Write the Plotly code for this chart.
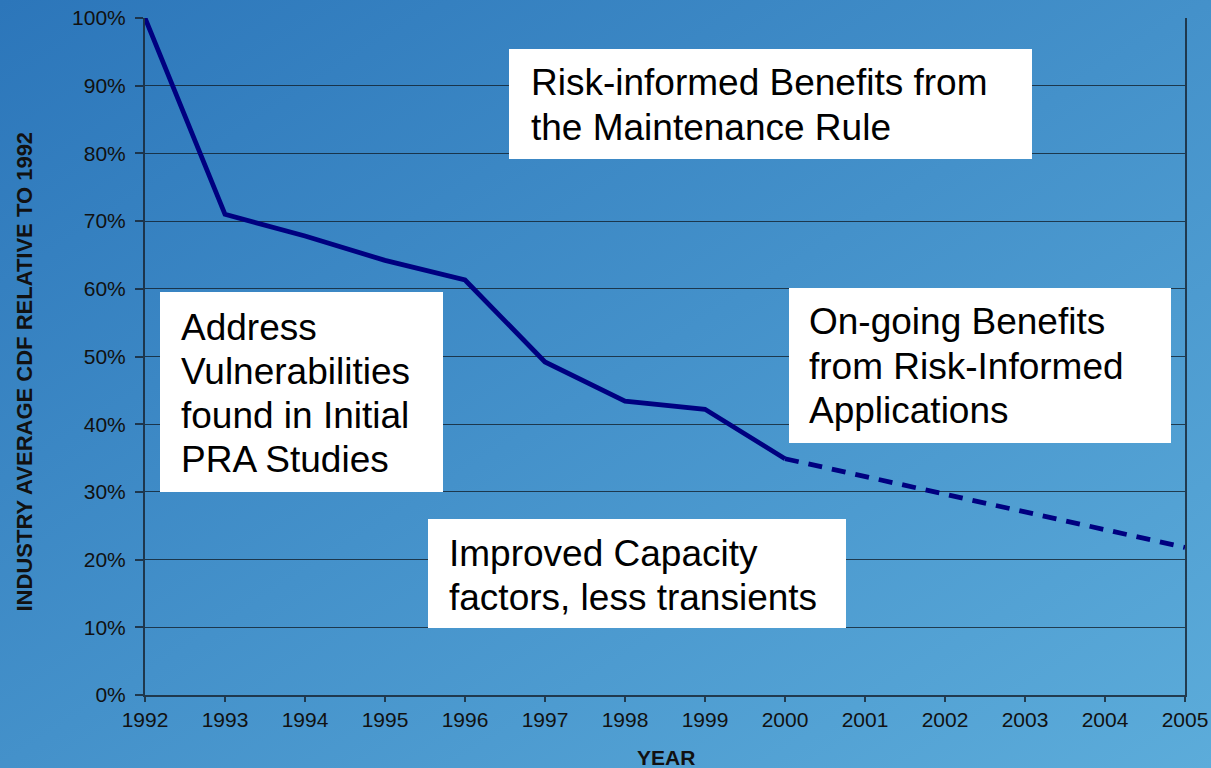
import base64
import plotly.graph_objects as go

# ---- data ----
years_actual = [1992, 1993, 1994, 1995, 1996, 1997, 1998, 1999, 2000]
cdf_actual = [1.00, 0.710, 0.678, 0.642, 0.613, 0.492, 0.434, 0.422, 0.349]
years_proj = [2000, 2001, 2002, 2003, 2004, 2005]
cdf_proj = [0.349, 0.323, 0.297, 0.271, 0.244, 0.218]

box_texts = [
    ["Risk-informed Benefits from", "the Maintenance Rule"],
    ["Address", "Vulnerabilities", "found in Initial", "PRA Studies"],
    ["On-going Benefits", "from Risk-Informed", "Applications"],
    ["Improved Capacity", "factors, less transients"],
]
x_title = "YEAR"
y_title = "INDUSTRY AVERAGE CDF RELATIVE TO 1992"

# ---- layout geometry (pixels) ----
W, H = 1211, 768
def px(x):
    return x / W
def py(y):
    return 1 - y / H

# boxes: (x0, y0, x1, y1, text_left, first_line_center, line_step)
box_geom = [
    (509, 49, 1032, 159, 529, 83, 44),
    (160, 292, 443, 492, 179, 327, 44.3),
    (789, 288, 1171, 443, 807, 322, 44),
    (428, 519, 846, 628, 447, 553, 44),
]

FONT = "Liberation Sans, Arial, sans-serif"
NAVY = "#000080"

fig = go.Figure()
fig.add_trace(go.Scatter(x=years_actual, y=cdf_actual, mode="lines",
                         line=dict(color=NAVY, width=4.8), showlegend=False,
                         hoverinfo="x+y"))
fig.add_trace(go.Scatter(x=years_proj, y=cdf_proj, mode="lines",
                         line=dict(color=NAVY, width=4.8, dash="14px,10px"),
                         showlegend=False, hoverinfo="x+y"))

# gradient background as svg image
svg = f'''<svg xmlns="http://www.w3.org/2000/svg" width="{W}" height="{H}" viewBox="0 0 {W} {H}" preserveAspectRatio="none">
<defs><linearGradient id="g" x1="0" y1="0" x2="1" y2="1">
<stop offset="0" stop-color="rgb(44,118,186)"/>
<stop offset="1" stop-color="rgb(92,172,218)"/>
</linearGradient></defs>
<rect x="0" y="0" width="{W}" height="{H}" fill="url(#g)"/></svg>'''
src = "data:image/svg+xml;base64," + base64.b64encode(svg.encode()).decode()

shapes = []
annotations = []
for lines, (x0, y0, x1, y1, tx, c0, step) in zip(box_texts, box_geom):
    shapes.append(dict(type="rect", xref="paper", yref="paper",
                       x0=px(x0), x1=px(x1), y0=py(y1), y1=py(y0),
                       fillcolor="white", line=dict(width=0), layer="above"))
    for i, t in enumerate(lines):
        annotations.append(dict(text=t, xref="paper", yref="paper",
                                x=px(tx), y=py(c0 + i * step),
                                xanchor="left", yanchor="middle",
                                showarrow=False,
                                font=dict(family=FONT, size=37, color="black")))

annotations.append(dict(text=f"<b>{y_title}</b>", xref="paper", yref="paper",
                        x=px(23.5), y=py(372), textangle=-90,
                        xanchor="center", yanchor="middle", showarrow=False,
                        font=dict(family=FONT, size=22, color="#111")))
annotations.append(dict(text=f"<b>{x_title}</b>", xref="paper", yref="paper",
                        x=px(666), y=py(757), xanchor="center", yanchor="middle",
                        showarrow=False,
                        font=dict(family=FONT, size=21, color="#111")))

fig.update_layout(
    width=W, height=H,
    margin=dict(l=0, r=0, t=0, b=0, autoexpand=False),
    paper_bgcolor="rgb(70,146,204)",
    plot_bgcolor="rgba(0,0,0,0)",
    images=[dict(source=src, xref="paper", yref="paper", x=0, y=1,
                 sizex=1, sizey=1, xanchor="left", yanchor="top",
                 sizing="stretch", layer="below")],
    shapes=shapes,
    annotations=annotations,
    xaxis=dict(domain=[px(145), px(1185)], range=[1992, 2005], dtick=1,
               tick0=1992, showgrid=False, zeroline=False,
               showline=True, linecolor="rgba(25,40,55,0.85)", linewidth=2,
               ticks="outside", ticklen=5, tickwidth=1.5,
               tickcolor="rgba(25,40,55,0.85)", ticklabelstandoff=0,
               tickfont=dict(family=FONT, size=21, color="#111"),
               automargin=False, fixedrange=True),
    yaxis=dict(domain=[py(695), py(18)], range=[0, 1], dtick=0.1,
               tickformat=".0%", showgrid=True,
               gridcolor="rgba(15,25,35,0.75)", gridwidth=1.2,
               zeroline=False, showline=True, mirror=True,
               linecolor="rgba(25,40,55,0.85)", linewidth=2,
               ticks="outside", ticklen=8, tickwidth=1.5,
               tickcolor="rgba(25,40,55,0.85)", ticklabelstandoff=5,
               tickfont=dict(family=FONT, size=21, color="#111"),
               automargin=False, fixedrange=True),
)

fig.write_html("out.html",
               config={"displayModeBar": False},
               post_script="document.body.style.margin='0';"
                           "document.body.style.overflow='hidden';")
